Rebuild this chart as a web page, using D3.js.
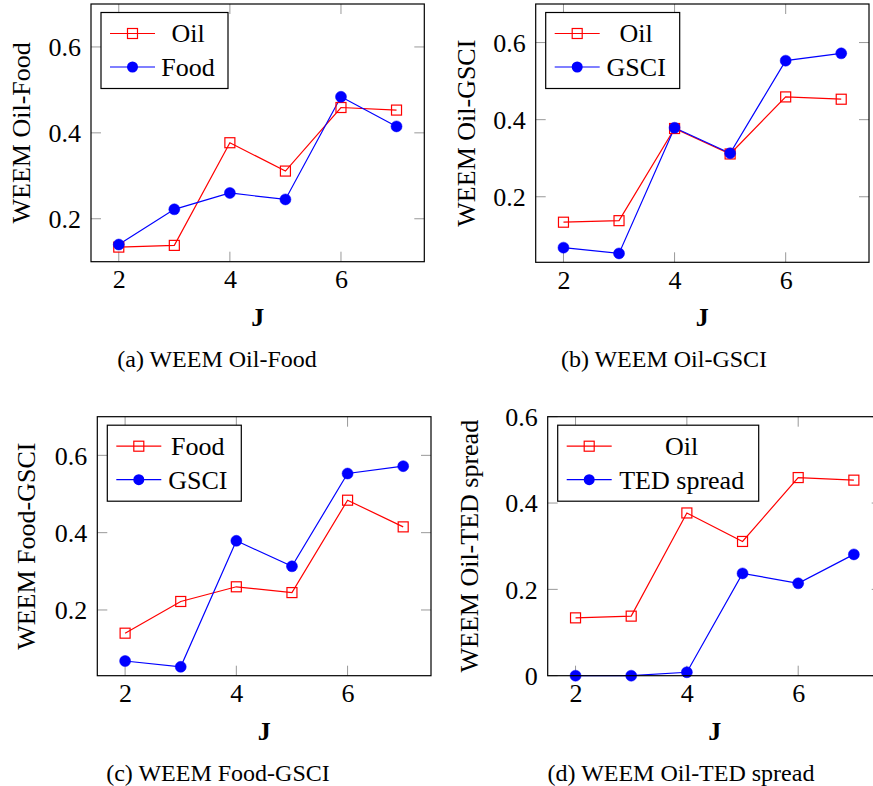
<!DOCTYPE html>
<html>
<head>
<meta charset="utf-8">
<script src="https://cdn.jsdelivr.net/npm/d3@7"></script>
<style>
  html, body { margin: 0; padding: 0; background: #fff; }
  svg { display: block; }
  text { font-family: "Liberation Serif", "Times New Roman", serif; fill: #000; }
</style>
</head>
<body>
<svg id="chart" width="873" height="786"></svg>
<script>
// ---------- data ----------
const J = [2, 3, 4, 5, 6, 7];
const xTicks = [2, 4, 6];

const oil  = [0.134, 0.138, 0.377, 0.311, 0.459, 0.453];
const food = [0.140, 0.222, 0.260, 0.245, 0.484, 0.415];
const gsci = [0.068, 0.053, 0.379, 0.313, 0.553, 0.572];
const ted  = [0.000, 0.000, 0.008, 0.237, 0.214, 0.281];

const yTicksABC = [0.2, 0.4, 0.6];
const yTicksD   = [0, 0.2, 0.4, 0.6];

const seriesNames = {
  a: ["Oil", "Food"],
  b: ["Oil", "GSCI"],
  c: ["Food", "GSCI"],
  d: ["Oil", "TED spread"]
};
const yLabels = {
  a: "WEEM Oil-Food",
  b: "WEEM Oil-GSCI",
  c: "WEEM Food-GSCI",
  d: "WEEM Oil-TED spread"
};
const captions = {
  a: "(a) WEEM Oil-Food",
  b: "(b) WEEM Oil-GSCI",
  c: "(c) WEEM Food-GSCI",
  d: "(d) WEEM Oil-TED spread"
};

// ---------- layout ----------
const panels = [
  { id: "a", s1: oil,  s2: food, yDomain: [0.1, 0.7],  yTicks: yTicksABC,
    x0: 91,    x1: 424.3, y0: 4,     y1: 261.7, yLabX: 30,  capX: 217, legW: 127 },
  { id: "b", s1: oil,  s2: gsci, yDomain: [0.03, 0.7], yTicks: yTicksABC,
    x0: 535.7, x1: 869,   y0: 4,     y1: 262.3, yLabX: 475, capX: 664, legW: 134 },
  { id: "c", s1: food, s2: gsci, yDomain: [0.03, 0.7], yTicks: yTicksABC,
    x0: 97.3,  x1: 431,   y0: 416.7, y1: 675.7, yLabX: 35,  capX: 218, legW: 134 },
  { id: "d", s1: oil,  s2: ted,  yDomain: [0, 0.6],    yTicks: yTicksD,
    x0: 547.7, x1: 881.7, y0: 416.7, y1: 675.7, yLabX: 478, capX: 681, legW: 201 }
];

const RED = "#ff0000", BLUE = "#0000ff";
const svg = d3.select("#chart");

panels.forEach(p => {
  const g = svg.append("g");
  const x = d3.scaleLinear().domain([1.5, 7.5]).range([p.x0, p.x1]);
  const y = d3.scaleLinear().domain(p.yDomain).range([p.y1, p.y0]);
  const tickLen = 10;

  // ticks (inward, mirrored)
  const tk = g.append("g").attr("stroke", "#999").attr("stroke-width", 1);
  xTicks.forEach(t => {
    tk.append("line").attr("x1", x(t)).attr("x2", x(t)).attr("y1", p.y1).attr("y2", p.y1 - tickLen);
    tk.append("line").attr("x1", x(t)).attr("x2", x(t)).attr("y1", p.y0).attr("y2", p.y0 + tickLen);
  });
  p.yTicks.forEach(t => {
    tk.append("line").attr("x1", p.x0).attr("x2", p.x0 + tickLen).attr("y1", y(t)).attr("y2", y(t));
    tk.append("line").attr("x1", p.x1).attr("x2", p.x1 - tickLen).attr("y1", y(t)).attr("y2", y(t));
  });

  // tick labels via axes
  const xAxis = d3.axisBottom(x).tickValues(xTicks).tickSize(0).tickPadding(0).tickFormat(d3.format("d"));
  const xg = g.append("g").attr("transform", `translate(0,${p.y1})`).call(xAxis);
  xg.select(".domain").remove();
  xg.selectAll("text").attr("dy", null).attr("y", 26.5)
    .style("font-size", "26px").style("font-family", "'Liberation Serif', serif").attr("fill", "#000");

  const fmt = v => v === 0 ? "0" : d3.format(".1f")(v);
  const yAxis = d3.axisLeft(y).tickValues(p.yTicks).tickSize(0).tickPadding(0).tickFormat(fmt);
  const yg = g.append("g").attr("transform", `translate(${p.x0 - 10},0)`).call(yAxis);
  yg.select(".domain").remove();
  yg.selectAll("text").attr("x", 0).attr("dy", "0.34em")
    .style("font-size", "26px").style("font-family", "'Liberation Serif', serif").attr("fill", "#000");

  // data lines & markers
  const line = d3.line().x((d, i) => x(J[i])).y(d => y(d));
  g.append("path").datum(p.s1).attr("d", line).attr("fill", "none").attr("stroke", RED).attr("stroke-width", 1.2);
  g.append("path").datum(p.s2).attr("d", line).attr("fill", "none").attr("stroke", BLUE).attr("stroke-width", 1.2);

  const sq = 10;
  g.selectAll(null).data(p.s1).enter().append("rect")
    .attr("x", (d, i) => x(J[i]) - sq / 2).attr("y", d => y(d) - sq / 2)
    .attr("width", sq).attr("height", sq)
    .attr("fill", "none").attr("stroke", RED).attr("stroke-width", 1.2);
  g.selectAll(null).data(p.s2).enter().append("circle")
    .attr("cx", (d, i) => x(J[i])).attr("cy", d => y(d)).attr("r", 5.5)
    .attr("fill", BLUE).attr("stroke", BLUE).attr("stroke-width", 0.5);

  // frame
  g.append("rect").attr("x", p.x0).attr("y", p.y0)
    .attr("width", p.x1 - p.x0).attr("height", p.y1 - p.y0)
    .attr("fill", "none").attr("stroke", "#000").attr("stroke-width", 1.2);

  // legend
  const lx = p.x0 + 10, ly = p.y0 + 8.5, lh = 76;
  const lg = g.append("g");
  lg.append("rect").attr("x", lx).attr("y", ly).attr("width", p.legW).attr("height", lh)
    .attr("fill", "#fff").attr("stroke", "#000").attr("stroke-width", 1.2);
  const names = seriesNames[p.id];
  const textCenter = lx + 54 + (p.legW - 54 - 7) / 2;
  [0, 1].forEach(k => {
    const ry = ly + 21 + k * 33.5;
    const col = k === 0 ? RED : BLUE;
    lg.append("line").attr("x1", lx + 9).attr("x2", lx + 54).attr("y1", ry).attr("y2", ry)
      .attr("stroke", col).attr("stroke-width", 1.2);
    if (k === 0) {
      lg.append("rect").attr("x", lx + 31.5 - sq / 2).attr("y", ry - sq / 2).attr("width", sq).attr("height", sq)
        .attr("fill", "none").attr("stroke", RED).attr("stroke-width", 1.2);
    } else {
      lg.append("circle").attr("cx", lx + 31.5).attr("cy", ry).attr("r", 5.5).attr("fill", BLUE);
    }
    lg.append("text").attr("x", textCenter).attr("y", ry).attr("dy", "0.34em")
      .attr("text-anchor", "middle").style("font-size", "26px").text(names[k]);
  });

  // axis labels
  g.append("text").attr("x", (p.x0 + p.x1) / 2).attr("y", p.y1 + 64)
    .attr("text-anchor", "middle").style("font-size", "26px").style("font-weight", "bold").text("J");
  const cy = (p.y0 + p.y1) / 2;
  g.append("text").attr("transform", `translate(${p.yLabX},${cy}) rotate(-90)`)
    .attr("text-anchor", "middle").style("font-size", "26px").text(yLabels[p.id]);

  // caption
  g.append("text").attr("x", p.capX).attr("y", p.y1 + 105)
    .attr("text-anchor", "middle").style("font-size", "24px").text(captions[p.id]);
});
</script>
</body>
</html>
